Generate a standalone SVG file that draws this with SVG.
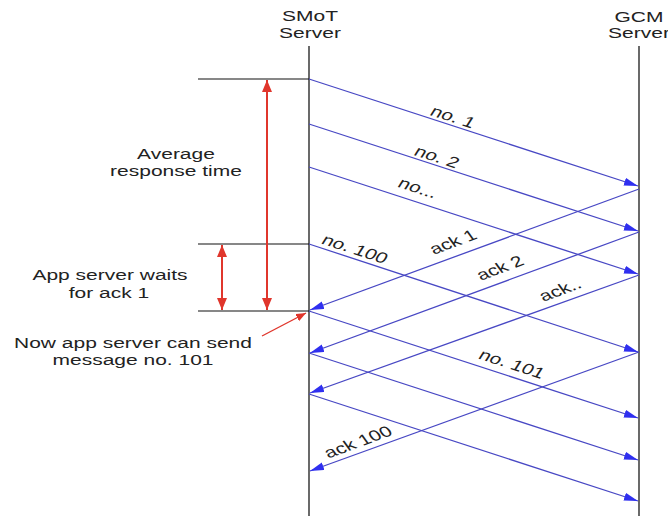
<svg xmlns="http://www.w3.org/2000/svg" width="668" height="516" viewBox="0 0 668 516">
<defs>
<style>
text{font-family:"Liberation Sans",Arial,sans-serif;font-size:15px;fill:#222}
.life{stroke:#444;stroke-width:1.6;fill:none}
.tick{stroke:#111;stroke-width:1.2;fill:none}
.msg{stroke:#4848c4;stroke-width:1.3;fill:none;marker-end:url(#ab)}
.red{stroke:#e0362c;stroke-width:2;fill:none}
</style>
<marker id="ab" markerUnits="userSpaceOnUse" markerWidth="16" markerHeight="10" refX="14" refY="4" orient="auto" viewBox="0 0 16 10">
<path d="M0,0 L14,4 L0,8 z" fill="#2f2ff0"/>
</marker>
<marker id="ar" markerUnits="userSpaceOnUse" markerWidth="14" markerHeight="12" refX="12" refY="5" orient="auto-start-reverse" viewBox="0 0 14 12">
<path d="M0,0 L12,5 L0,10 z" fill="#e0362c"/>
</marker>
<marker id="ars" markerUnits="userSpaceOnUse" markerWidth="12" markerHeight="10" refX="10" refY="4" orient="auto" viewBox="0 0 12 10">
<path d="M0,0 L10,4 L0,8 z" fill="#e0362c"/>
</marker>
</defs>

<g id="smot">
<line class="life" x1="309" y1="46" x2="309" y2="516"/>
<text transform="translate(310,21) scale(1.4,1)" text-anchor="middle">SMoT</text>
<text transform="translate(310,38) scale(1.4,1)" text-anchor="middle">Server</text>
</g>
<g id="gcm">
<line class="life" x1="639" y1="46" x2="639" y2="516"/>
<text transform="translate(639,22) scale(1.4,1)" text-anchor="middle">GCM</text>
<text transform="translate(639,38) scale(1.4,1)" text-anchor="middle">Server</text>
</g>

<g id="markers">
<line class="tick" x1="198" y1="79" x2="309" y2="79"/>
<line class="tick" x1="198" y1="244" x2="309" y2="244"/>
<line class="tick" x1="198" y1="311" x2="309" y2="311"/>
</g>

<g id="avg">
<line class="red" x1="267" y1="80" x2="267" y2="310" marker-start="url(#ar)" marker-end="url(#ar)"/>
<text transform="translate(176,159) scale(1.4,1)" text-anchor="middle">Average</text>
<text transform="translate(176,176) scale(1.4,1)" text-anchor="middle">response time</text>
</g>
<g id="wait">
<line class="red" x1="222" y1="245" x2="222" y2="310" marker-start="url(#ar)" marker-end="url(#ar)"/>
<text transform="translate(110,280) scale(1.4,1)" text-anchor="middle">App server waits</text>
<text transform="translate(109,298) scale(1.4,1)" text-anchor="middle">for ack 1</text>
</g>
<g id="now">
<line x1="262" y1="336" x2="306" y2="313" stroke="#e0362c" stroke-width="1.4" marker-end="url(#ars)"/>
<text transform="translate(133,348) scale(1.4,1)" text-anchor="middle">Now app server can send</text>
<text transform="translate(133,365) scale(1.4,1)" text-anchor="middle">message no. 101</text>
</g>

<g id="connectors">
<line class="msg" x1="309" y1="79" x2="638" y2="186"/>
<line class="msg" x1="309" y1="124" x2="638" y2="231"/>
<line class="msg" x1="309" y1="167" x2="638" y2="274"/>
<line class="msg" x1="309" y1="244" x2="638" y2="352"/>
<line class="msg" x1="309" y1="311" x2="638" y2="418"/>
<line class="msg" x1="309" y1="353" x2="638" y2="460"/>
<line class="msg" x1="309" y1="394" x2="638" y2="501"/>
<line class="msg" x1="639" y1="189" x2="310" y2="310"/>
<line class="msg" x1="639" y1="232" x2="310" y2="353"/>
<line class="msg" x1="639" y1="275" x2="310" y2="393"/>
<line class="msg" x1="639" y1="352" x2="310" y2="471"/>
</g>

<g id="labels">
<text transform="translate(453,117) scale(1.4,1) rotate(24.4)" text-anchor="middle" y="5">no. 1</text>
<text transform="translate(437,157) scale(1.4,1) rotate(24.4)" text-anchor="middle" y="5">no. 2</text>
<text transform="translate(418,188) scale(1.4,1) rotate(24.4)" text-anchor="middle" y="5">no...</text>
<text transform="translate(355,249) scale(1.4,1) rotate(24.4)" text-anchor="middle" y="5">no. 100</text>
<text transform="translate(512,364) scale(1.4,1) rotate(24.4)" text-anchor="middle" y="5">no. 101</text>
<text transform="translate(453,242) scale(1.4,1) rotate(-27.2)" text-anchor="middle" y="5">ack 1</text>
<text transform="translate(500,268) scale(1.4,1) rotate(-27.2)" text-anchor="middle" y="5">ack 2</text>
<text transform="translate(560,290) scale(1.4,1) rotate(-27.2)" text-anchor="middle" y="5">ack..</text>
<text transform="translate(358,442) scale(1.4,1) rotate(-27.2)" text-anchor="middle" y="5">ack 100</text>
</g>
</svg>
